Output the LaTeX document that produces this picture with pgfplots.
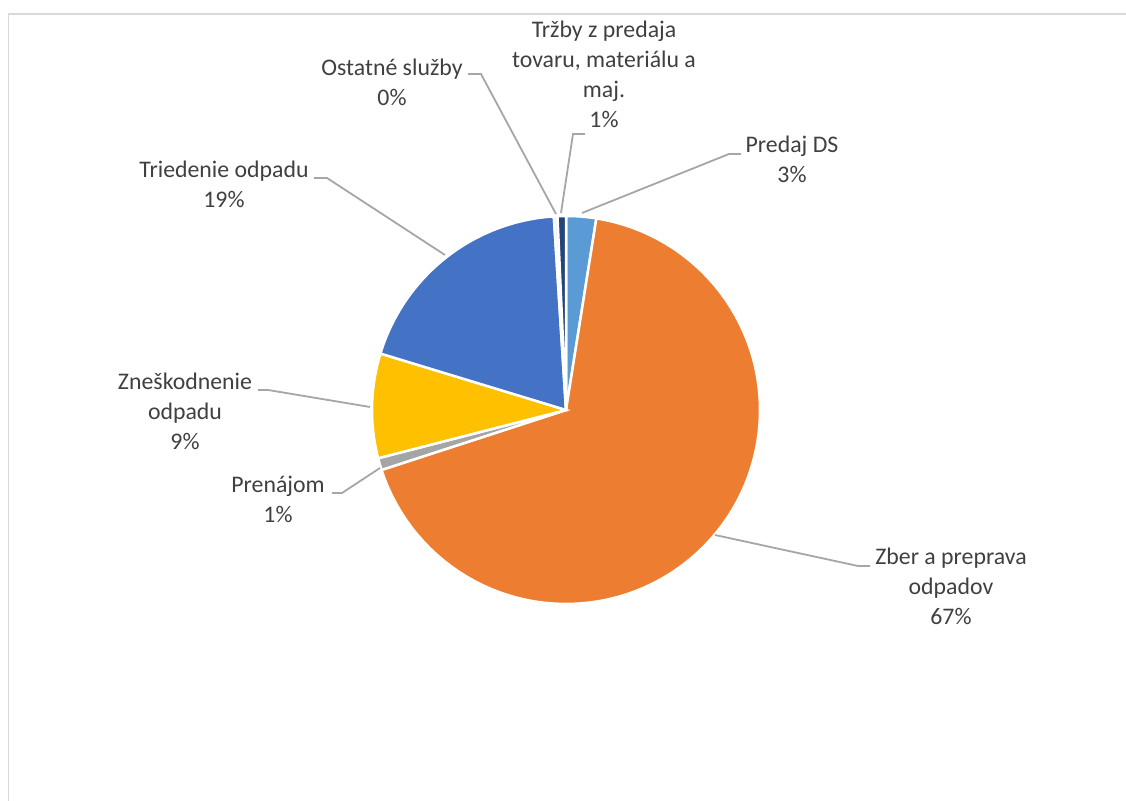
\documentclass[border=0pt]{standalone}
\usepackage{pgfplots}
\usepackage{pgfplotstable}
\pgfplotsset{compat=1.18}
\usepackage{fontspec}
\setmainfont{Carlito}

\definecolor{predaj}{HTML}{5B9BD5}
\definecolor{zber}{HTML}{ED7D31}
\definecolor{prenajom}{HTML}{A5A5A5}
\definecolor{zneskod}{HTML}{FFC000}
\definecolor{triedenie}{HTML}{4472C4}
\definecolor{ostatne}{HTML}{E8EEF4}
\definecolor{trzby}{HTML}{264478}
\definecolor{txt}{HTML}{404040}
\definecolor{leader}{HTML}{A6A6A6}
\definecolor{frame}{HTML}{D9D9D9}

% share in percent, clockwise from 12 o'clock
\pgfplotstableread{
val  color
2.5  predaj
67.5 zber
1.0  prenajom
8.7  zneskod
19.3 triedenie
0.3  ostatne
0.7  trzby
}\piedata

% start/end angle of every slice
\def\acc{0}
\pgfplotsforeachungrouped \i in {0,...,6}{%
  \pgfplotstablegetelem{\i}{val}\of\piedata
  \pgfmathsetmacro\from{\acc*3.6}%
  \pgfmathsetmacro\acc{\acc+\pgfplotsretval}%
  \pgfmathsetmacro\to{\acc*3.6}%
  \expandafter\xdef\csname from\i\endcsname{\from}%
  \expandafter\xdef\csname to\i\endcsname{\to}%
  \pgfplotstablegetelem{\i}{color}\of\piedata
  \expandafter\xdef\csname col\i\endcsname{\pgfplotsretval}%
}

\tikzset{
  lab/.style={font=\fontsize{23.8bp}{29.5bp}\selectfont, text=txt, inner sep=0pt, anchor=base},
  lead/.style={draw=leader, line width=1.8bp},
}
% x, first baseline, lines
\newcommand\lbl[3]{\foreach \s [count=\k from 0] in {#3}{\node[lab] at (#1,{#2+29.7*\k}) {\s};}}

\begin{document}
\begin{tikzpicture}
\begin{axis}[
    at={(0,0)}, anchor=south west,
    scale only axis, width=1126bp, height=801bp,
    xmin=0, xmax=1126, ymin=0, ymax=801,
    y dir=reverse,
    hide axis, clip=false,
  ]
  \pgfplotsinvokeforeach{0,...,6}{
    \addplot[draw=white, line width=2.5bp, fill=\csname col#1\endcsname,
      domain=\csname from#1\endcsname:\csname to#1\endcsname,
      samples=90, variable=\t]
      ({566+194*sin(t)},{410-194*cos(t)}) -- (axis cs:566,410) -- cycle;
  }
\end{axis}

\begin{scope}[yshift=801bp, x=1bp, y=-1bp]
  % chart area border (top and left edges visible)
  \draw[frame, line width=1.6bp] (8.5,1126) -- (8.5,14) -- (1126,14);

  % leader lines
  \draw[lead] (561,213) -- (573,134) -- (585,134);
  \draw[lead] (582,213) -- (729,154) -- (741,154);
  \draw[lead] (556,214) -- (481,74) -- (468,74);
  \draw[lead] (445,255) -- (327,178) -- (314,178);
  \draw[lead] (370,407) -- (268,390) -- (258,390);
  \draw[lead] (380,468) -- (342,493) -- (332,493);
  \draw[lead] (715,535) -- (858,566) -- (870,566);

  % labels
  \lbl{604}{38}{{Tržby z predaja},{tovaru, materiálu a},{maj.},{1\%}}
  \lbl{792}{153}{{Predaj DS},{3\%}}
  \lbl{392}{76}{{Ostatné služby},{0\%}}
  \lbl{224}{178}{{Triedenie odpadu},{19\%}}
  \lbl{185}{390}{{Zneškodnenie},{odpadu},{9\%}}
  \lbl{278}{493}{{Prenájom},{1\%}}
  \lbl{951}{565}{{Zber a preprava},{odpadov},{67\%}}
\end{scope}

\pgfresetboundingbox
\path (0,0) rectangle (1126bp,801bp);
\end{tikzpicture}
\end{document}
